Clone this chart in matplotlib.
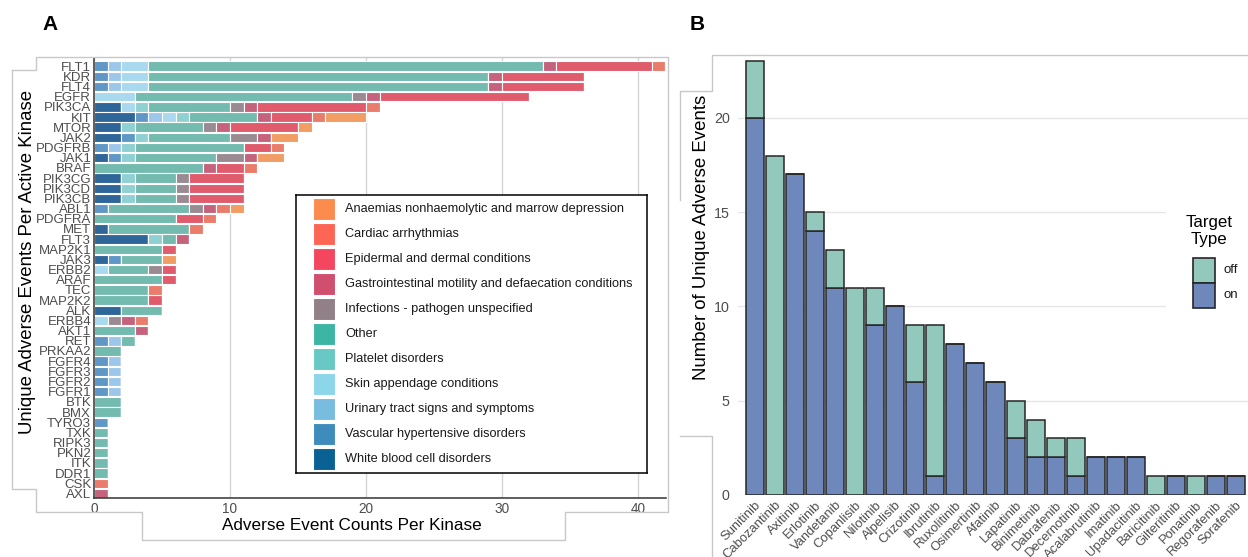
import matplotlib
matplotlib.use("Agg")
import matplotlib.pyplot as plt
from matplotlib.patches import Rectangle
from matplotlib.lines import Line2D
import numpy as np

plt.rcParams['font.family'] = ['Liberation Sans', 'DejaVu Sans']

W, H = 1248, 557

# ---- panel A data ----
kinases = ["FLT1", "KDR", "FLT4", "EGFR", "PIK3CA", "KIT", "MTOR", "JAK2", "PDGFRB", "JAK1",
           "BRAF", "PIK3CG", "PIK3CD", "PIK3CB", "ABL1", "PDGFRA", "MET", "FLT3", "MAP2K1", "JAK3",
           "ERBB2", "ARAF", "TEC", "MAP2K2", "ALK", "ERBB4", "AKT1", "RET", "PRKAA2", "FGFR4",
           "FGFR3", "FGFR2", "FGFR1", "BTK", "BMX", "TYRO3", "TXK", "RIPK3", "PKN2", "ITK",
           "DDR1", "CSK", "AXL"]
categories = ["Anaemias nonhaemolytic and marrow depression", "Cardiac arrhythmias",
              "Epidermal and dermal conditions", "Gastrointestinal motility and defaecation conditions",
              "Infections - pathogen unspecified", "Other", "Platelet disorders",
              "Skin appendage conditions", "Urinary tract signs and symptoms",
              "Vascular hypertensive disorders", "White blood cell disorders"]
legend_colors = ["#fc8b4e", "#fd6655", "#f4465e", "#d04f6e", "#928089", "#3cb5a5",
                 "#68c8c4", "#8cd6ea", "#78bde0", "#3d8cbc", "#0a6194"]
# bars are drawn in a washed-out version of the legend colours
bar_colors = ["#f19d64", "#e97c6a", "#e05c6c", "#c5637d", "#9a8b93", "#73bbaf",
              "#8fd0d2", "#a8d9ee", "#9cc7ea", "#5f97c6", "#2e6699"]

wbc    = [0,0,0,0,2,3,2,2,0,1, 0,2,2,2,0,0,1,4,0,1, 0,0,0,0,2,0,0,0,0,0, 0,0,0,0,0,0,0,0,0,0, 0,0,0]
vasc   = [1,1,1,0,0,1,0,1,1,1, 0,0,0,0,1,0,0,0,0,1, 0,0,0,0,0,0,0,1,0,1, 1,1,1,0,0,1,0,0,0,0, 0,0,0]
urin   = [1,1,1,0,0,1,0,0,1,0, 0,0,0,0,0,0,0,0,0,0, 0,0,0,0,0,0,0,1,0,1, 1,1,1,0,0,0,0,0,0,0, 0,0,0]
skin   = [2,2,2,3,1,1,0,0,0,0, 0,0,0,0,0,0,0,0,0,0, 1,0,0,0,0,1,0,0,0,0, 0,0,0,0,0,0,0,0,0,0, 0,0,0]
plat   = [0,0,0,0,1,1,1,1,1,1, 0,1,1,1,0,0,0,1,0,0, 0,0,0,0,0,0,0,0,0,0, 0,0,0,0,0,0,0,0,0,0, 0,0,0]
other  = [29,25,25,16,6,5,5,6,8,6, 8,3,3,3,6,6,6,1,5,3, 3,5,4,4,3,0,3,1,2,0, 0,0,0,2,2,0,1,1,1,1, 1,0,0]
infect = [0,0,0,1,1,0,1,2,0,2, 0,1,1,1,1,0,0,0,0,0, 1,0,0,0,0,1,0,0,0,0, 0,0,0,0,0,0,0,0,0,0, 0,0,0]
gi     = [1,1,1,1,1,1,1,1,0,1, 1,0,0,0,1,0,0,1,0,0, 0,0,0,0,0,1,1,0,0,0, 0,0,0,0,0,0,0,0,0,0, 0,0,1]
epid   = [7,6,6,11,8,3,5,0,2,0, 2,4,4,4,0,2,0,0,1,0, 1,1,0,1,0,0,0,0,0,0, 0,0,0,0,0,0,0,0,0,0, 0,0,0]
card   = [1,0,0,0,1,1,0,0,1,0, 1,0,0,0,1,1,1,0,0,0, 0,0,1,0,0,1,0,0,0,0, 0,0,0,0,0,0,0,0,0,0, 0,1,0]
anaem  = [0,0,0,0,0,3,1,2,0,2, 0,0,0,0,1,0,0,0,0,1, 0,0,0,0,0,0,0,0,0,0, 0,0,0,0,0,0,0,0,0,0, 0,0,0]

# stacked left -> right in reverse legend order
stack = [wbc, vasc, urin, skin, plat, other, infect, gi, epid, card, anaem]
stack_colors = bar_colors[::-1]

# ---- panel B data ----
drugs = ["Sunitinib", "Cabozantinib", "Axitinib", "Erlotinib", "Vandetanib", "Copanlisib",
         "Nilotinib", "Alpelisib", "Crizotinib", "Ibrutinib", "Ruxolitinib", "Osimertinib",
         "Afatinib", "Lapatinib", "Binimetinib", "Dabrafenib", "Decernotinib", "Acalabrutinib",
         "Imatinib", "Upadacitinib", "Baricitinib", "Gilteritinib", "Ponatinib", "Regorafenib",
         "Sorafenib"]
on_target  = [20,0,17,14,11,0,9,10,6,1,8,7,6,3,2,2,1,2,2,2,0,1,0,1,1]
off_target = [3,18,0,1,2,11,2,0,3,8,0,0,0,2,2,1,2,0,0,0,1,0,1,0,0]
on_color, off_color = "#6f88bc", "#93c8bc"


def fbox(x0, y0, x1, y1):
    # pixel box (top-left origin) -> figure fraction rect
    return [x0 / W, 1 - y1 / H, (x1 - x0) / W, (y1 - y0) / H]


fig = plt.figure(figsize=(W / 100, H / 100), dpi=100)

# grey frame remnants
def fline(pts):
    xs = [p[0] / W for p in pts]
    ys = [1 - p[1] / H for p in pts]
    fig.add_artist(Line2D(xs, ys, color="#c8c8c8", lw=1))

fline([(12, 70), (36, 70), (36, 57), (668, 57), (668, 512), (565, 512), (565, 540),
       (142, 540), (142, 512), (36, 512), (36, 489), (12, 489), (12, 70)])
fline([(680, 200), (680, 91), (712, 91), (712, 55), (1248, 55)])
fline([(680, 436), (712, 436), (712, 557)])

# ---- panel A ----
axA = fig.add_axes(fbox(94, 58, 666, 498))
y = np.arange(len(kinases))
left = np.zeros(len(kinases))
for vals, col in zip(stack, stack_colors):
    vals = np.array(vals)
    axA.barh(y, vals, left=left, height=0.92, color=col,
             edgecolor="white", linewidth=0.8, zorder=2)
    left += vals
axA.set_xlim(0, 42.06)
axA.set_ylim(len(kinases) - 0.55, -0.8)
axA.set_yticks(y)
axA.set_yticklabels(kinases, color="#4d4d4d", fontsize=9.5)
axA.set_xticks([0, 10, 20, 30, 40])
axA.set_xticklabels(["0", "10", "20", "30", "40"], color="#4d4d4d", fontsize=9.8)
axA.tick_params(axis="both", length=0, pad=2)
axA.tick_params(axis="x", pad=3)
axA.grid(axis="x", color="#d6d6d6", lw=1, zorder=0)
axA.set_axisbelow(True)
for s in ["top", "right"]:
    axA.spines[s].set_visible(False)
for s in ["left", "bottom"]:
    axA.spines[s].set_color("#333333")
    axA.spines[s].set_linewidth(1.1)
fig.text(352 / W, 1 - 526 / H, "Adverse Event Counts Per Kinase", fontsize=12.3,
         ha="center", va="center")
fig.text(28 / W, 1 - 262 / H, "Unique Adverse Events Per Active Kinase", fontsize=13.4,
         ha="center", va="center", rotation=90)

# legend A drawn in its own box
lax = fig.add_axes(fbox(296, 195, 647, 473))
lax.set_xlim(0, 351)
lax.set_ylim(278, 0)
lax.set_xticks([])
lax.set_yticks([])
for s in lax.spines.values():
    s.set_color("black")
    s.set_linewidth(1.1)
for i, (lab, col) in enumerate(zip(categories, legend_colors)):
    cy = 14 + i * 25
    lax.add_patch(Rectangle((17, cy - 11), 22, 22, facecolor=col, edgecolor="white", lw=0.8))
    lax.text(49, cy, lab, fontsize=9.2, va="center", ha="left", color="#1a1a1a")

# ---- panel B ----
axB = fig.add_axes(fbox(738, 50, 1248, 495))
x = np.arange(len(drugs))
axB.bar(x, on_target, width=0.9, color=on_color, edgecolor="#262626", linewidth=1.1, zorder=2)
axB.bar(x, off_target, bottom=on_target, width=0.9, color=off_color, edgecolor="#262626",
        linewidth=1.1, zorder=2)
axB.set_xlim(-0.85, 24.6)
axB.set_ylim(0, 23.6)
axB.set_yticks([0, 5, 10, 15, 20])
axB.set_yticklabels(["0", "5", "10", "15", "20"], color="#4d4d4d", fontsize=10.3)
axB.set_xticks(x)
axB.set_xticklabels(drugs, rotation=45, ha="right", rotation_mode="anchor",
                    color="#4d4d4d", fontsize=9.4)
axB.tick_params(axis="both", length=0)
axB.tick_params(axis="y", pad=6)
axB.tick_params(axis="x", pad=3)
axB.grid(axis="y", color="#e6e6e6", lw=1, zorder=0)
axB.set_axisbelow(True)
for s in axB.spines.values():
    s.set_visible(False)
fig.text(701 / W, 1 - 237 / H, "Number of Unique Adverse Events", fontsize=13.4,
         ha="center", va="center", rotation=90)

# legend B
lbx = fig.add_axes(fbox(1166, 205, 1248, 318))
lbx.set_xlim(1166, 1248)
lbx.set_ylim(318, 205)
lbx.axis("off")
lbx.add_patch(Rectangle((1166, 205), 82, 113, facecolor="white", edgecolor="none"))
lbx.text(1209, 231, "Target\nType", ha="center", va="center", linespacing=1.1, fontsize=12.2)
lbx.add_patch(Rectangle((1193, 258), 22, 25, facecolor=off_color, edgecolor="#262626", lw=1.2))
lbx.add_patch(Rectangle((1193, 283), 22, 25, facecolor=on_color, edgecolor="#262626", lw=1.2))
lbx.text(1224, 270, "off", va="center", color="#1a1a1a", fontsize=9.5)
lbx.text(1224, 295, "on", va="center", color="#1a1a1a", fontsize=9.5)

fig.text(50 / W, 1 - 24 / H, "A", fontsize=15, fontweight="bold", ha="center", va="center")
fig.text(697 / W, 1 - 24 / H, "B", fontsize=15, fontweight="bold", ha="center", va="center")

fig.savefig("out.png", dpi=100)
